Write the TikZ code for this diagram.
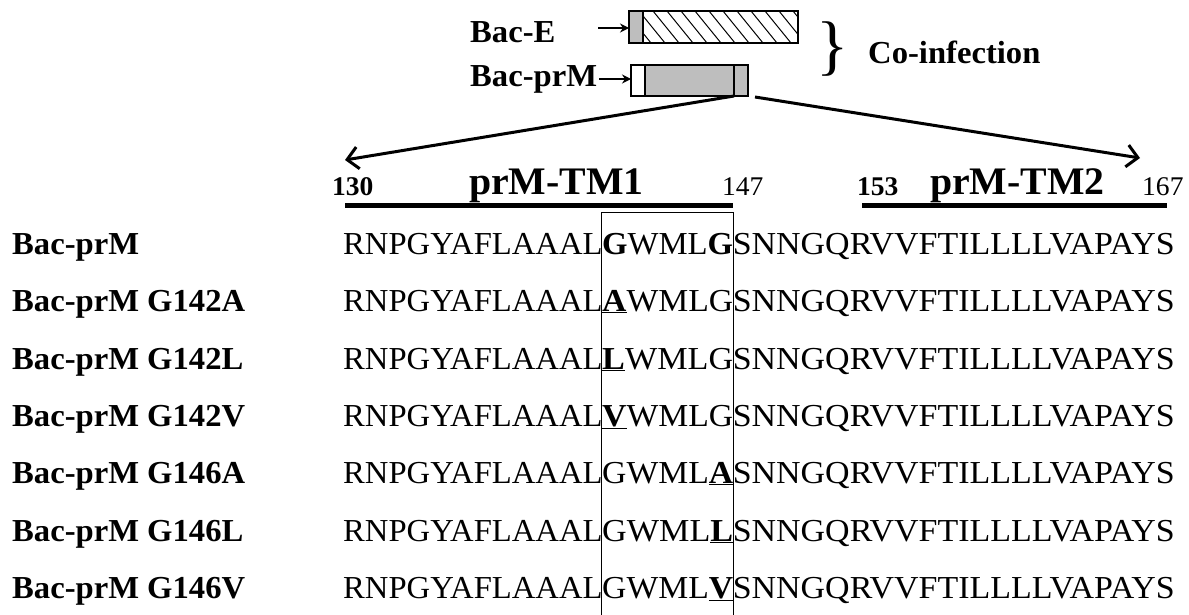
\documentclass[tikz,border=0pt]{standalone}
\usepackage{fontspec}
\setmainfont{Liberation Serif}[FakeStretch=1.02]
\usetikzlibrary{arrows.meta}
\newcommand{\mutres}[1]{\underline{\textbf{#1}}}
\newcommand{\seqtail}{\resizebox{442pt}{\height}{SNNGQRVVFTILLLLVAPAYS}}
\definecolor{boxgray}{RGB}{190,190,190}
\begin{document}
\begin{tikzpicture}[x=1pt,y=-1pt,
  lab/.style={font=\fontsize{32}{34}\selectfont\bfseries, anchor=base west, inner sep=0pt},
  seq/.style={font=\fontsize{32}{34}\selectfont, anchor=base west, inner sep=0pt},
  numb/.style={font=\fontsize{27}{30}\selectfont\bfseries, anchor=base west, inner sep=0pt},
  numr/.style={font=\fontsize{27}{30}\selectfont, anchor=base west, inner sep=0pt},
  tmlab/.style={font=\fontsize{39}{42}\selectfont\bfseries, anchor=base west, inner sep=0pt},
  tmbar/.style={line width=5pt},
  smallarr/.style={line width=2pt, -{Stealth[length=9pt,width=9pt]}},
  bigarr/.style={line width=3pt, -{Straight Barb[length=11pt,width=22pt,line width=3pt]}},
  frame/.style={draw=black, line width=1.2pt}]
\useasboundingbox (0,0) rectangle (1189,615);
% top constructs
\fill[boxgray] (629,11) rectangle (643,43);
\begin{scope}
  \clip (643,11) rectangle (798,43);
  \foreach \x in {625,639,...,800} \draw[line width=1pt] (\x,11) -- (\x+26,43);
\end{scope}
\draw[frame] (629,11) rectangle (798,43);
\draw[frame] (643,11) -- (643,43);
\node[inner sep=0pt, minimum width=169pt, minimum height=32pt, anchor=north west] (bE) at (629,11) {};
\fill[boxgray] (645,65) rectangle (748,96);
\draw[frame] (631,65) rectangle (748,96);
\draw[frame] (645,65) -- (645,96);
\draw[frame] (734,65) -- (734,96);
\node[inner sep=0pt, minimum width=117pt, minimum height=31pt, anchor=north west] (bP) at (631,65) {};
\node[lab] (lE) at (470,43) {Bac-E};
\node[lab] (lP) at (470,87) {Bac-prM};
\coordinate (aE) at (598,28);
\coordinate (aP) at (599,79);
\draw[smallarr] (aE) -- (bE.west |- aE);
\draw[smallarr] (aP) -- (bP.west |- aP);
\node[font=\fontsize{66}{68}\selectfont, inner sep=0pt] (brace) at (833,49) {\}};
\node[lab] (co) at (868,64) {Co-infection};
% zoom arrows
\coordinate (pL) at (734,96);
\coordinate (pR) at (755,97);
\coordinate (tL) at (345,160);
\coordinate (tR) at (1140,158);
\draw[bigarr] (pL) -- (tL);
\draw[bigarr] (pR) -- (tR);
% TM labels
\node[numb] (n130) at (332,196) {130};
\node[tmlab] (tm1) at (469,194) {prM-TM1};
\node[numr] (n147) at (722,196) {147};
\node[numb] (n153) at (857,196) {153};
\node[tmlab] (tm2) at (930,194) {prM-TM2};
\node[numr] (n167) at (1142,196) {167};
\draw[tmbar] (345,205) -- (733,205);
\draw[tmbar] (862,205) -- (1167,205);
% window
\draw[line width=1pt] (601,212) rectangle (733,620);
% row labels
\node[lab] (r1) at (12,254) {Bac-prM};
\node[lab] (r2) at (12,311) {Bac-prM G142A};
\node[lab] (r3) at (12,369) {Bac-prM G142L};
\node[lab] (r4) at (12,426) {Bac-prM G142V};
\node[lab] (r5) at (12,483) {Bac-prM G146A};
\node[lab] (r6) at (12,541) {Bac-prM G146L};
\node[lab] (r7) at (12,598) {Bac-prM G146V};
% sequences: head, window part, tail
\foreach \y/\mid [count=\i] in {254/{\textbf{G}WML\textbf{G}}, 311/{\mutres{A}WMLG}, 369/{\mutres{L}WMLG}, 426/{\mutres{V}WMLG}, 483/{GWML\mutres{A}}, 541/{GWML\mutres{L}}, 598/{GWML\mutres{V}}}{
  \node[seq] (h\i) at (343,\y) {RNPGYAFLAAAL};
  \node[seq] (m\i) at (602,\y) {\resizebox{131pt}{\height}{\mid}};
  \node[seq, anchor=base east] (t\i) at (1175,\y) {\seqtail};
}
\end{tikzpicture}
\end{document}
